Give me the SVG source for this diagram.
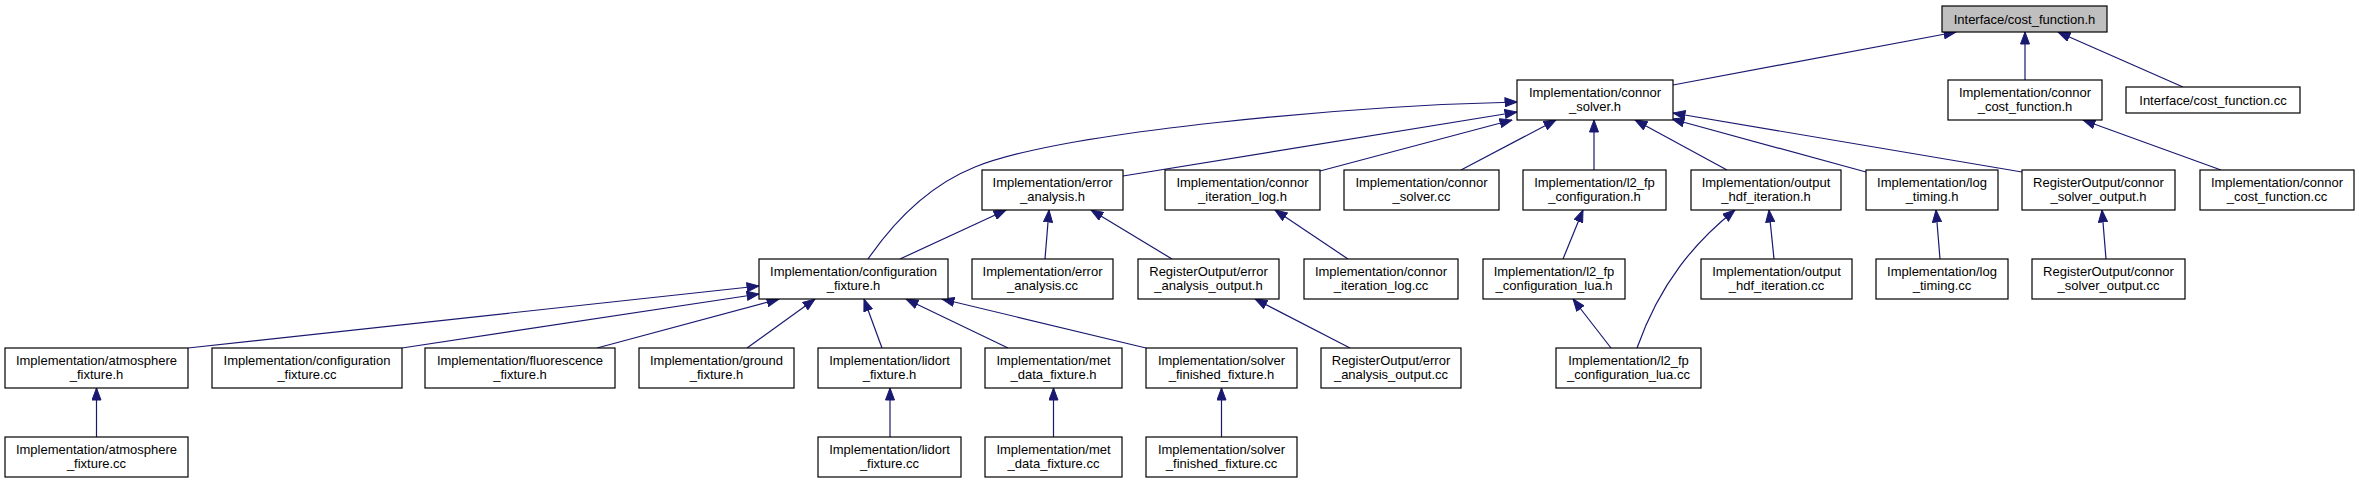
<svg xmlns="http://www.w3.org/2000/svg" width="2359" height="484" viewBox="0 0 2359 484">
<style>
.node rect{fill:#fff;stroke:#000;stroke-width:1.2}
.root rect{fill:#bfbfbf}
.node text{font-family:"Liberation Sans",Arial,sans-serif;font-size:13px;text-anchor:middle;fill:#000}
#edges path{fill:none;stroke:#191970;stroke-width:1.2;marker-end:url(#ah)}
</style>
<defs>
<marker id="ah" markerUnits="userSpaceOnUse" markerWidth="13" markerHeight="10" viewBox="0 0 13 10" refX="12.5" refY="5" orient="auto">
<path d="M0.5,0.5 L12.5,5 L0.5,9.5 z" fill="#191970" stroke="#191970" stroke-width="1"/>
</marker>
</defs>
<rect width="2359" height="484" fill="#fff"/>
<g id="edges">
<path d="M1673,85 L1956,32"/>
<path d="M2025,80 L2025,32"/>
<path d="M2183,87 L2058,32"/>
<path d="M2221,170 L2083,120"/>
<path d="M868,259 C895,220 930,185 975,167 C1065,131 1350,106 1517,102"/>
<path d="M1123,176 L1517,112"/>
<path d="M1320,171 L1512,120"/>
<path d="M1461,170 L1556,120"/>
<path d="M1594,170 L1594,120"/>
<path d="M1727,170 L1635,120"/>
<path d="M1866,172 L1672,119"/>
<path d="M2022,172 L1673,113"/>
<path d="M900,259 L1006,210"/>
<path d="M1045,259 L1049,210"/>
<path d="M1172,259 L1091,210"/>
<path d="M1348,259 L1275,210"/>
<path d="M1563,259 L1583,210"/>
<path d="M1637,348 C1660,283 1695,242 1735,210"/>
<path d="M1774,259 L1769,210"/>
<path d="M1940,259 L1936,210"/>
<path d="M2106,259 L2102,210"/>
<path d="M1611,348 L1573,299"/>
<path d="M1350,348 L1255,299"/>
<path d="M188,348 L759,286"/>
<path d="M402,348 L759,294"/>
<path d="M597,348 L779,299"/>
<path d="M747,348 L815,299"/>
<path d="M882,348 L864,299"/>
<path d="M1008,348 L906,299"/>
<path d="M1146,348 L942,299"/>
<path d="M96.5,437 L96.5,388"/>
<path d="M890,437 L890,388"/>
<path d="M1053.5,437 L1053.5,388"/>
<path d="M1221.5,437 L1221.5,388"/>
</g>
<g id="n_cost_function_h" class="node root"><rect x="1942" y="6" width="165" height="26"/><text x="2024.5" y="23.5">Interface/cost_function.h</text></g>
<g id="n_connor_solver_h" class="node"><rect x="1517" y="80" width="156" height="40"/><text x="1595" y="96.5">Implementation/connor</text><text x="1595" y="111">_solver.h</text></g>
<g id="n_connor_cost_function_h" class="node"><rect x="1948" y="80" width="154" height="40"/><text x="2025" y="96.5">Implementation/connor</text><text x="2025" y="111">_cost_function.h</text></g>
<g id="n_cost_function_cc" class="node"><rect x="2126" y="87" width="174" height="26"/><text x="2213" y="104.5">Interface/cost_function.cc</text></g>
<g id="n_error_analysis_h" class="node"><rect x="982" y="170" width="141" height="40"/><text x="1052.5" y="186.5">Implementation/error</text><text x="1052.5" y="201">_analysis.h</text></g>
<g id="n_connor_iteration_log_h" class="node"><rect x="1165" y="170" width="155" height="40"/><text x="1242.5" y="186.5">Implementation/connor</text><text x="1242.5" y="201">_iteration_log.h</text></g>
<g id="n_connor_solver_cc" class="node"><rect x="1344" y="170" width="155" height="40"/><text x="1421.5" y="186.5">Implementation/connor</text><text x="1421.5" y="201">_solver.cc</text></g>
<g id="n_l2_fp_configuration_h" class="node"><rect x="1523" y="170" width="143" height="40"/><text x="1594.5" y="186.5">Implementation/l2_fp</text><text x="1594.5" y="201">_configuration.h</text></g>
<g id="n_output_hdf_iteration_h" class="node"><rect x="1691" y="170" width="150" height="40"/><text x="1766" y="186.5">Implementation/output</text><text x="1766" y="201">_hdf_iteration.h</text></g>
<g id="n_log_timing_h" class="node"><rect x="1866" y="170" width="132" height="40"/><text x="1932" y="186.5">Implementation/log</text><text x="1932" y="201">_timing.h</text></g>
<g id="n_connor_solver_output_h" class="node"><rect x="2022" y="170" width="153" height="40"/><text x="2098.5" y="186.5">RegisterOutput/connor</text><text x="2098.5" y="201">_solver_output.h</text></g>
<g id="n_connor_cost_function_cc" class="node"><rect x="2200" y="170" width="154" height="40"/><text x="2277" y="186.5">Implementation/connor</text><text x="2277" y="201">_cost_function.cc</text></g>
<g id="n_configuration_fixture_h" class="node"><rect x="759" y="259" width="189" height="40"/><text x="853.5" y="275.5">Implementation/configuration</text><text x="853.5" y="290">_fixture.h</text></g>
<g id="n_error_analysis_cc" class="node"><rect x="972" y="259" width="141" height="40"/><text x="1042.5" y="275.5">Implementation/error</text><text x="1042.5" y="290">_analysis.cc</text></g>
<g id="n_error_analysis_output_h" class="node"><rect x="1138" y="259" width="141" height="40"/><text x="1208.5" y="275.5">RegisterOutput/error</text><text x="1208.5" y="290">_analysis_output.h</text></g>
<g id="n_connor_iteration_log_cc" class="node"><rect x="1304" y="259" width="154" height="40"/><text x="1381" y="275.5">Implementation/connor</text><text x="1381" y="290">_iteration_log.cc</text></g>
<g id="n_l2_fp_configuration_lua_h" class="node"><rect x="1483" y="259" width="142" height="40"/><text x="1554" y="275.5">Implementation/l2_fp</text><text x="1554" y="290">_configuration_lua.h</text></g>
<g id="n_output_hdf_iteration_cc" class="node"><rect x="1701" y="259" width="151" height="40"/><text x="1776.5" y="275.5">Implementation/output</text><text x="1776.5" y="290">_hdf_iteration.cc</text></g>
<g id="n_log_timing_cc" class="node"><rect x="1876" y="259" width="132" height="40"/><text x="1942" y="275.5">Implementation/log</text><text x="1942" y="290">_timing.cc</text></g>
<g id="n_connor_solver_output_cc" class="node"><rect x="2032" y="259" width="153" height="40"/><text x="2108.5" y="275.5">RegisterOutput/connor</text><text x="2108.5" y="290">_solver_output.cc</text></g>
<g id="n_atmosphere_fixture_h" class="node"><rect x="5" y="348" width="183" height="40"/><text x="96.5" y="364.5">Implementation/atmosphere</text><text x="96.5" y="379">_fixture.h</text></g>
<g id="n_configuration_fixture_cc" class="node"><rect x="212" y="348" width="190" height="40"/><text x="307" y="364.5">Implementation/configuration</text><text x="307" y="379">_fixture.cc</text></g>
<g id="n_fluorescence_fixture_h" class="node"><rect x="425" y="348" width="190" height="40"/><text x="520" y="364.5">Implementation/fluorescence</text><text x="520" y="379">_fixture.h</text></g>
<g id="n_ground_fixture_h" class="node"><rect x="639" y="348" width="155" height="40"/><text x="716.5" y="364.5">Implementation/ground</text><text x="716.5" y="379">_fixture.h</text></g>
<g id="n_lidort_fixture_h" class="node"><rect x="818" y="348" width="143" height="40"/><text x="889.5" y="364.5">Implementation/lidort</text><text x="889.5" y="379">_fixture.h</text></g>
<g id="n_met_data_fixture_h" class="node"><rect x="985" y="348" width="137" height="40"/><text x="1053.5" y="364.5">Implementation/met</text><text x="1053.5" y="379">_data_fixture.h</text></g>
<g id="n_solver_finished_fixture_h" class="node"><rect x="1146" y="348" width="151" height="40"/><text x="1221.5" y="364.5">Implementation/solver</text><text x="1221.5" y="379">_finished_fixture.h</text></g>
<g id="n_error_analysis_output_cc" class="node"><rect x="1321" y="348" width="140" height="40"/><text x="1391" y="364.5">RegisterOutput/error</text><text x="1391" y="379">_analysis_output.cc</text></g>
<g id="n_l2_fp_configuration_lua_cc" class="node"><rect x="1556" y="348" width="145" height="40"/><text x="1628.5" y="364.5">Implementation/l2_fp</text><text x="1628.5" y="379">_configuration_lua.cc</text></g>
<g id="n_atmosphere_fixture_cc" class="node"><rect x="5" y="437" width="183" height="40"/><text x="96.5" y="453.5">Implementation/atmosphere</text><text x="96.5" y="468">_fixture.cc</text></g>
<g id="n_lidort_fixture_cc" class="node"><rect x="818" y="437" width="143" height="40"/><text x="889.5" y="453.5">Implementation/lidort</text><text x="889.5" y="468">_fixture.cc</text></g>
<g id="n_met_data_fixture_cc" class="node"><rect x="985" y="437" width="137" height="40"/><text x="1053.5" y="453.5">Implementation/met</text><text x="1053.5" y="468">_data_fixture.cc</text></g>
<g id="n_solver_finished_fixture_cc" class="node"><rect x="1146" y="437" width="151" height="40"/><text x="1221.5" y="453.5">Implementation/solver</text><text x="1221.5" y="468">_finished_fixture.cc</text></g>
</svg>
